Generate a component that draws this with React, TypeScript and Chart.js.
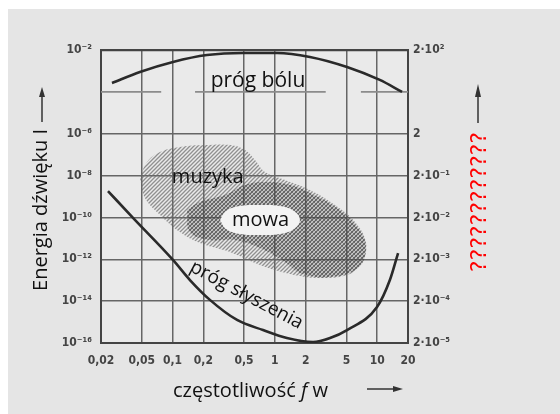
import React, { useEffect, useRef } from 'react';
import { Chart, registerables } from 'chart.js';

Chart.register(...registerables);

// ---- axes ----
const xTicks = [0.02, 0.05, 0.1, 0.2, 0.5, 1, 2, 5, 10, 20];
const xTickLabels = ['0,02', '0,05', '0,1', '0,2', '0,5', '1', '2', '5', '10', '20'];
const yTicks = [1e-16, 1e-14, 1e-12, 1e-10, 1e-8, 1e-6, 1e-4, 1e-2];
const yLeftLabels = ['10⁻¹⁶', '10⁻¹⁴', '10⁻¹²', '10⁻¹⁰', '10⁻⁸', '10⁻⁶', '', '10⁻²'];
const yRightLabels = ['2·10⁻⁵', '2·10⁻⁴', '2·10⁻³', '2·10⁻²', '2·10⁻¹', '2', '', '2·10²'];

// ---- curves (frequency in kHz, log10 of intensity) ----
const painFreq = [0.0256, 0.048, 0.101, 0.217, 0.489, 1.05, 2.2, 5.07, 10.6, 17.5];
const painLogI = [-3.58, -3.05, -2.57, -2.24, -2.14, -2.14, -2.33, -2.81, -3.43, -4.0];

const hearFreq = [0.0234, 0.0411, 0.101, 0.148, 0.232, 0.427, 0.766, 1.31, 2.36, 3.46, 5.07, 9.96, 13.3, 16.0];
const hearLogI = [-8.74, -10.02, -12.03, -12.99, -13.94, -14.9, -15.38, -15.76, -15.95, -15.76, -15.38, -14.28, -12.99, -11.7];

// ---- regions ----
const musicFreq = [0.048, 0.0563, 0.0755, 0.118, 0.208, 0.364, 0.51, 0.64, 0.8, 1.26, 2.2, 3.87, 6.07, 7.78, 7.1, 5.42, 2.76, 1.41, 0.716, 0.364, 0.185, 0.118, 0.0755, 0.0538, 0.048];
const musicLogI = [-8.12, -7.35, -6.87, -6.63, -6.54, -6.54, -6.78, -7.26, -7.83, -8.21, -8.69, -9.41, -10.22, -11.22, -12.13, -12.7, -12.89, -12.7, -12.27, -11.65, -11.22, -10.7, -9.88, -9.07, -8.12];

const speechFreq = [0.1385, 0.185, 0.326, 0.51, 0.8, 1.41, 2.2, 4.05, 6.49, 7.78, 6.49, 3.46, 1.76, 1.26, 0.716, 0.408, 0.232, 0.148, 0.1385];
const speechLogI = [-9.64, -9.26, -8.93, -8.45, -8.31, -8.45, -8.83, -9.55, -10.5, -11.46, -12.42, -12.85, -12.65, -12.13, -11.46, -11.08, -11.08, -10.7, -9.64];

const clearFreq = [0.291, 0.333, 0.456, 0.716, 1.12, 1.54, 1.76, 1.54, 1.12, 0.716, 0.456, 0.333, 0.291];
const clearLogI = [-10.12, -9.69, -9.45, -9.41, -9.45, -9.69, -10.12, -10.55, -10.79, -10.84, -10.79, -10.55, -10.12];

// ---- in-plot labels (anchor: frequency, log10 intensity of baseline) ----
const labelTexts = ['próg bólu', 'muzyka', 'mowa', 'próg słyszenia'];
const labelFreq = [0.684, 0.221, 0.724, 0.499];
const labelLogI = [-3.77, -8.35, -10.41, -13.94];

const toPts = (f: number[], l: number[]) => f.map((v, i) => ({ x: v, y: Math.pow(10, l[i]) }));

const SANS = '"Open Sans", "Noto Sans", sans-serif';
const TICKFONT = '"DejaVu Sans Condensed", "DejaVu Sans", sans-serif';

function makeHatch(cross: boolean, color: string, width: number): CanvasPattern {
  const c = document.createElement('canvas');
  c.width = 4;
  c.height = 4;
  const g = c.getContext('2d')!;
  g.strokeStyle = color;
  g.lineWidth = width;
  g.beginPath();
  g.moveTo(0, 4); g.lineTo(4, 0);
  g.moveTo(-1, 1); g.lineTo(1, -1);
  g.moveTo(3, 5); g.lineTo(5, 3);
  if (cross) {
    g.moveTo(0, 0); g.lineTo(4, 4);
    g.moveTo(-1, 3); g.lineTo(1, 5);
    g.moveTo(3, -1); g.lineTo(5, 1);
  }
  g.stroke();
  return g.createPattern(c, 'repeat')!;
}

const decorPlugin = {
  id: 'decor',
  beforeDraw(chart: any) {
    const { ctx, chartArea: a, width, height } = chart;
    ctx.save();
    ctx.fillStyle = '#ffffff';
    ctx.fillRect(0, 0, width, height);
    ctx.fillStyle = '#e5e5e5';
    ctx.fillRect(8, 9, width - 8, height - 9);
    ctx.fillStyle = '#eaeaea';
    ctx.fillRect(a.left, a.top, a.right - a.left, a.bottom - a.top);
    ctx.restore();
  },
  beforeDatasetsDraw(chart: any) {
    const { ctx } = chart;
    const xs = chart.scales.x;
    const ys = chart.scales.y;
    const py = ys.getPixelForValue(1e-4);
    ctx.save();
    ctx.strokeStyle = '#8c8c8c';
    ctx.lineWidth = 1.6;
    ctx.beginPath();
    const segs = [[0.02, 0.0775], [0.166, 3.14], [6.93, 20]];
    for (const [a, b] of segs) {
      ctx.moveTo(xs.getPixelForValue(a), py);
      ctx.lineTo(xs.getPixelForValue(b), py);
    }
    ctx.stroke();
    ctx.restore();
  },
  afterDatasetsDraw(chart: any) {
    const { ctx } = chart;
    const xs = chart.scales.x;
    const ys = chart.scales.y;
    const sizes = [21, 20, 20, 19];
    const rots = [0, 0, 0, 28];
    ctx.save();
    ctx.fillStyle = '#111';
    ctx.textAlign = 'center';
    ctx.textBaseline = 'alphabetic';
    labelTexts.forEach((t, i) => {
      const px = xs.getPixelForValue(labelFreq[i]);
      const py = ys.getPixelForValue(Math.pow(10, labelLogI[i]));
      ctx.save();
      ctx.translate(px, py);
      ctx.rotate((rots[i] * Math.PI) / 180);
      ctx.font = `${sizes[i]}px ${SANS}`;
      ctx.fillText(t, 0, 0);
      ctx.restore();
    });
    ctx.restore();
  },
  afterDraw(chart: any) {
    const { ctx } = chart;
    ctx.save();
    // left title
    ctx.fillStyle = '#111';
    ctx.font = `20px ${SANS}`;
    ctx.save();
    ctx.translate(47, 210);
    ctx.rotate(-Math.PI / 2);
    ctx.textAlign = 'center';
    ctx.textBaseline = 'alphabetic';
    ctx.fillText('Energia dźwięku I', 0, 0);
    ctx.restore();

    // bottom title with italic f
    ctx.textAlign = 'left';
    ctx.textBaseline = 'alphabetic';
    let x = 173;
    const by = 397;
    const p1 = 'częstotliwość ';
    ctx.font = `20px ${SANS}`;
    ctx.fillText(p1, x, by);
    x += ctx.measureText(p1).width;
    ctx.font = `italic 20px ${SANS}`;
    ctx.fillText('f', x, by);
    x += ctx.measureText('f').width;
    ctx.font = `20px ${SANS}`;
    ctx.fillText(' w', x, by);

    // arrows
    ctx.strokeStyle = '#333';
    ctx.fillStyle = '#333';
    ctx.lineWidth = 1.5;
    const upArrow = (ax: number, tip: number, base: number, tail: number) => {
      ctx.beginPath();
      ctx.moveTo(ax, tail);
      ctx.lineTo(ax, base);
      ctx.stroke();
      ctx.beginPath();
      ctx.moveTo(ax, tip);
      ctx.lineTo(ax - 3, base);
      ctx.lineTo(ax + 3, base);
      ctx.closePath();
      ctx.fill();
    };
    upArrow(42, 87, 97, 122);
    upArrow(478, 84, 97, 123);
    // right arrow at bottom
    ctx.beginPath();
    ctx.moveTo(367, 389);
    ctx.lineTo(394, 389);
    ctx.stroke();
    ctx.beginPath();
    ctx.moveTo(403, 389);
    ctx.lineTo(393, 386);
    ctx.lineTo(393, 392);
    ctx.closePath();
    ctx.fill();

    // red right-side label
    ctx.save();
    ctx.fillStyle = '#ff0000';
    ctx.font = `22px "DejaVu Sans", sans-serif`;
    ctx.translate(474, 132);
    ctx.rotate(Math.PI / 2);
    ctx.textAlign = 'left';
    ctx.textBaseline = 'alphabetic';
    ctx.fillText('¿¿¿¿¿¿¿¿¿¿¿¿', 0, 0);
    ctx.restore();

    ctx.restore();
  },
};

export default function App() {
  const ref = useRef<HTMLCanvasElement>(null);

  useEffect(() => {
    const canvas = ref.current!;
    const musicHatch = makeHatch(false, 'rgba(105,105,105,0.7)', 1.3);
    const speechHatch = makeHatch(true, 'rgba(60,60,60,0.62)', 1.1);

    const tickFont = { family: TICKFONT, size: 12, weight: 'bold' as const };
    const setTicks = (vals: number[]) => (axis: any) => {
      axis.ticks = vals.map((v) => ({ value: v }));
    };

    const chart = new Chart(canvas, {
      type: 'line',
      data: {
        datasets: [
          {
            label: 'próg bólu',
            data: toPts(painFreq, painLogI),
            borderColor: '#2a2a2a',
            borderWidth: 2.6,
            pointRadius: 0,
            fill: false,
            cubicInterpolationMode: 'monotone',
            order: 0,
          },
          {
            label: 'próg słyszenia',
            data: toPts(hearFreq, hearLogI),
            borderColor: '#2a2a2a',
            borderWidth: 2.6,
            pointRadius: 0,
            fill: false,
            cubicInterpolationMode: 'monotone',
            order: 0,
          },
          {
            label: 'clear',
            data: toPts(clearFreq, clearLogI),
            borderWidth: 0,
            borderColor: 'rgba(0,0,0,0)',
            backgroundColor: '#f3f3f3',
            pointRadius: 0,
            fill: 'shape',
            tension: 0.4,
            order: 1,
          },
          {
            label: 'mowa',
            data: toPts(speechFreq, speechLogI),
            borderWidth: 0,
            borderColor: 'rgba(0,0,0,0)',
            backgroundColor: speechHatch,
            pointRadius: 0,
            fill: 'shape',
            tension: 0.4,
            order: 2,
          },
          {
            label: 'muzyka',
            data: toPts(musicFreq, musicLogI),
            borderWidth: 0,
            borderColor: 'rgba(0,0,0,0)',
            backgroundColor: musicHatch,
            pointRadius: 0,
            fill: 'shape',
            tension: 0.4,
            order: 3,
          },
        ] as any,
      },
      options: {
        animation: false,
        responsive: false,
        events: [],
        layout: { padding: { top: 50, left: 0, right: 0, bottom: 0 } },
        plugins: {
          legend: { display: false },
          tooltip: { enabled: false },
        },
        scales: {
          x: {
            type: 'logarithmic',
            min: 0.02,
            max: 20,
            bounds: 'data',
            afterBuildTicks: setTicks(xTicks),
            afterFit: (s: any) => {
              s.height = 71;
            },
            ticks: {
              autoSkip: false,
              maxRotation: 0,
              padding: 11,
              color: '#444',
              font: tickFont,
              callback: (_v: any, i: number) => xTickLabels[i],
            },
            grid: {
              drawTicks: false,
              color: '#666',
              lineWidth: 1.5,
            },
            border: { display: true, color: '#444', width: 2 },
          },
          y: {
            type: 'logarithmic',
            position: 'left',
            min: 1e-16,
            max: 1e-2,
            bounds: 'data',
            afterBuildTicks: setTicks(yTicks),
            afterFit: (s: any) => {
              s.width = 101;
            },
            ticks: {
              autoSkip: false,
              padding: 9,
              color: '#444',
              font: tickFont,
              callback: (_v: any, i: number) => yLeftLabels[i],
            },
            grid: {
              drawTicks: false,
              color: (c: any) => (c.tick && c.tick.value === 1e-4 ? 'rgba(0,0,0,0)' : c.tick && c.tick.value === 1e-2 ? '#444' : '#666'),
              lineWidth: (c: any) => (c.tick && c.tick.value === 1e-2 ? 2.2 : 1.5),
            },
            border: { display: true, color: '#444', width: 2 },
          },
          y2: {
            type: 'logarithmic',
            position: 'right',
            min: 1e-16,
            max: 1e-2,
            bounds: 'data',
            afterBuildTicks: setTicks(yTicks),
            afterFit: (s: any) => {
              s.width = 152;
            },
            ticks: {
              autoSkip: false,
              padding: 5,
              color: '#444',
              font: tickFont,
              callback: (_v: any, i: number) => yRightLabels[i],
            },
            grid: { display: false, drawTicks: false },
            border: { display: true, color: '#444', width: 2 },
          },
        } as any,
      },
      plugins: [decorPlugin],
    });

    return () => chart.destroy();
  }, []);

  return (
    <div style={{ position: 'fixed', left: 0, top: 0, width: 560, height: 414, background: '#fff' }}>
      <canvas ref={ref} width={560} height={414} style={{ display: 'block' }} />
    </div>
  );
}
